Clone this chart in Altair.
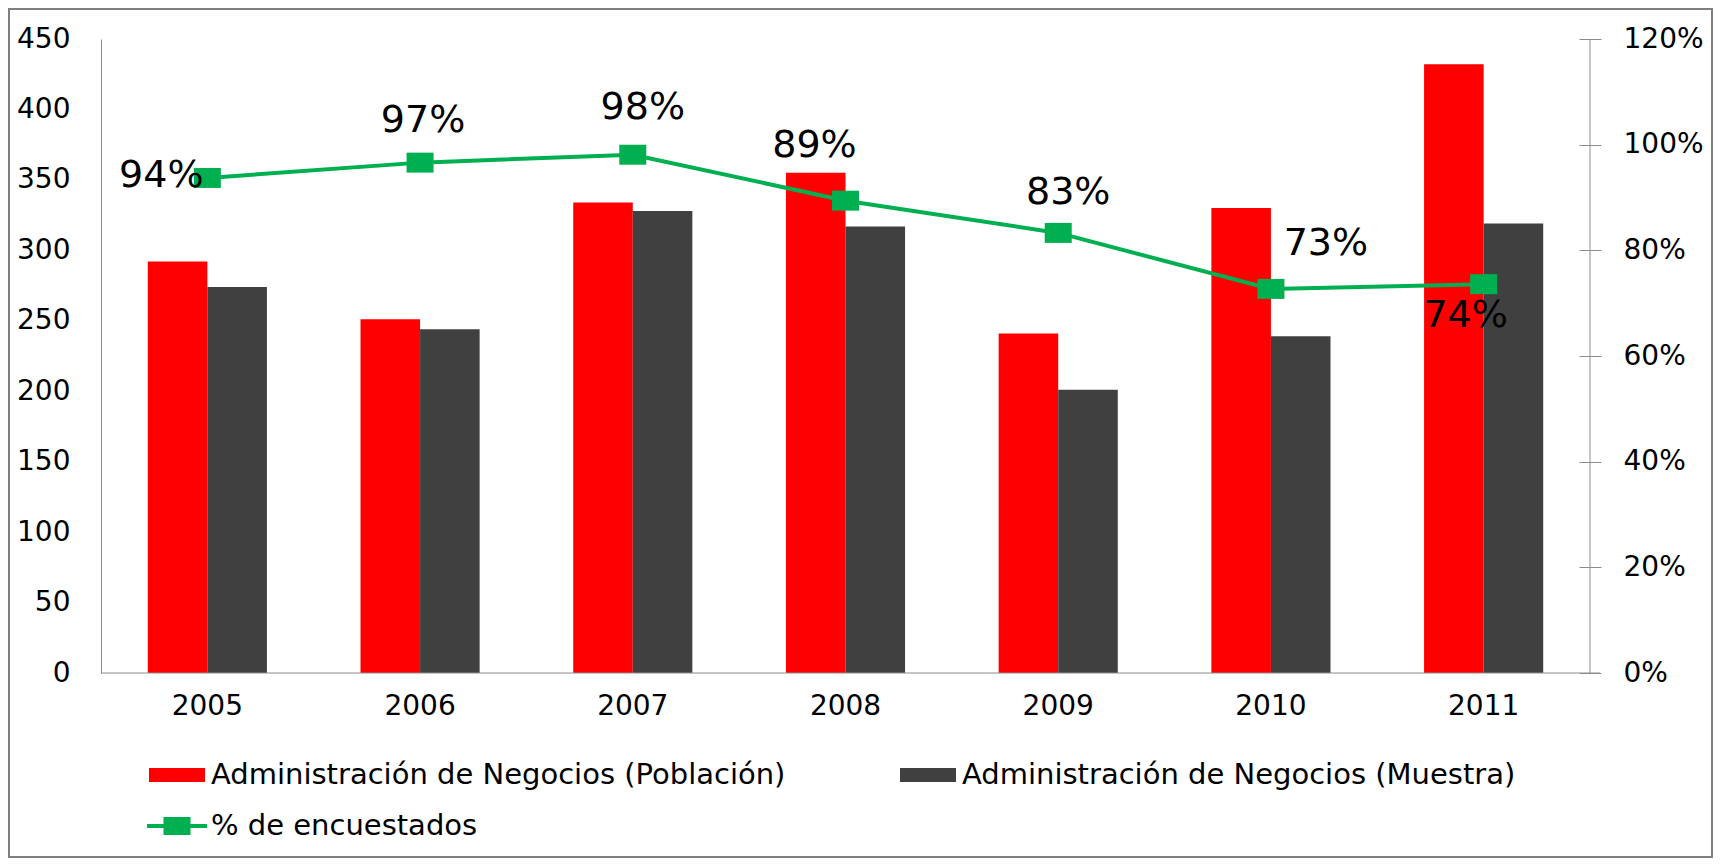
import altair as alt
import pandas as pd

# ---------------- data ----------------
years = ["2005", "2006", "2007", "2008", "2009", "2010", "2011"]
poblacion = [292, 251, 334, 355, 241, 330, 432]
muestra = [274, 244, 328, 317, 201, 239, 319]
encuestados = [0.937, 0.966, 0.981, 0.894, 0.833, 0.727, 0.736]
series_names = [
    "Administración de Negocios (Población)",
    "Administración de Negocios (Muestra)",
    "% de encuestados",
]
left_ticks = [0, 50, 100, 150, 200, 250, 300, 350, 400, 450]
right_ticks = [0, 0.2, 0.4, 0.6, 0.8, 1.0, 1.2]

bars_df = pd.DataFrame({
    "year": years * 2,
    "series": [series_names[0]] * len(years) + [series_names[1]] * len(years),
    "value": poblacion + muestra,
})
line_df = pd.DataFrame({"year": years, "pct": encuestados})
legend_df = pd.DataFrame({"series": series_names})
dummy = pd.DataFrame({"k": [0]})

# ---------------- style ----------------
FONT = "DejaVu Sans"
RED = "#FF0000"
DARK = "#404040"
GREEN = "#00B050"
GRAY = "#8C8C8C"
W, H = 1489, 634
PAD = {"left": 93, "top": 31, "right": 123, "bottom": 185}
TICK_FS = 28
LEGEND_FS = 29
LABEL_FS = 38

# label offsets (dx, dy) per year, as placed in the original
label_offsets = {
    "2005": (-46, -2),
    "2006": (3, -42),
    "2007": (10, -47),
    "2008": (-31, -55),
    "2009": (10, -40),
    "2010": (55, -45),
    "2011": (-18, 32),
}

x_enc = alt.X(
    "year:N",
    sort=years,
    title=None,
    scale=alt.Scale(paddingInner=0.44, paddingOuter=0.22),
    axis=alt.Axis(
        labelAngle=0, ticks=False, tickSize=0, labelPadding=19,
        domain=False, labelFontSize=TICK_FS,
        labelColor="black", labelFont=FONT, grid=False,
    ),
)

bars = alt.Chart(bars_df).mark_bar().encode(
    x=x_enc,
    xOffset=alt.XOffset(
        "series:N", sort=series_names[:2],
        scale=alt.Scale(domain=series_names[:2], paddingInner=0, paddingOuter=0),
    ),
    y=alt.Y(
        "value:Q",
        title=None,
        scale=alt.Scale(domain=[0, 450], nice=False),
        axis=alt.Axis(
            orient="left", values=left_ticks, ticks=False, tickSize=0,
            labelPadding=31, domainColor=GRAY, domainWidth=1, grid=False,
            labelFontSize=TICK_FS, labelFont=FONT, labelColor="black",
        ),
    ),
    color=alt.Color(
        "series:N",
        scale=alt.Scale(domain=series_names[:2], range=[RED, DARK]),
        legend=None,
    ),
)

pct_scale = alt.Scale(domain=[0, 1.2], nice=False)
pct_axis = alt.Axis(
    orient="right", values=right_ticks, format=".0%", offset=-11,
    tickSize=22, tickColor=GRAY, domain=False, grid=False,
    labelPadding=22, labelFontSize=TICK_FS, labelFont=FONT,
    labelColor="black",
)
y_pct = alt.Y("pct:Q", title=None, scale=pct_scale, axis=pct_axis)

line = alt.Chart(line_df).mark_line(color=GREEN, strokeWidth=4).encode(
    x=x_enc, y=y_pct,
)

MARKER = "M-1,-0.74H1V0.74H-1Z"
points = alt.Chart(line_df).mark_point(
    filled=True, shape=MARKER, size=729, color=GREEN, opacity=1
).encode(x=x_enc, y=y_pct)

label_layers = []
for yr, (dx, dy) in label_offsets.items():
    label_layers.append(
        alt.Chart(line_df)
        .transform_filter(alt.datum.year == yr)
        .mark_text(
            dx=dx, dy=dy, fontSize=LABEL_FS, font=FONT, color="black",
            align="center", baseline="middle",
        )
        .encode(
            x=x_enc,
            y=y_pct,
            text=alt.Text("pct:Q", format=".0%"),
        )
    )

right = alt.layer(line, points, *label_layers)

# legend (symbols drawn by Vega's legend from custom paths)
# legend fills column by column: order gives row1 = Población | Muestra, row2 = %
legend_order = [series_names[0], series_names[2], series_names[1]]
SWATCH = "M-1.4,-0.35H1.4V0.35H-1.4Z"
LINESYM = ("M-1.5,-0.1H-0.675V-0.45H0.675V-0.1H1.5V0.1H0.675V0.45"
           "H-0.675V0.1H-1.5Z")
leg = alt.Legend(
    title=None, orient="none", legendX=56, legendY=716, columns=2,
    symbolSize=1600, symbolStrokeWidth=0, symbolOpacity=1,
    labelOffset=14, columnPadding=114, rowPadding=16, padding=0,
    labelFont=FONT, labelFontSize=LEGEND_FS, labelColor="black",
    labelLimit=0,
)
legend_layer = alt.Chart(legend_df).mark_point(
    filled=True, opacity=0, size=1600
).encode(
    color=alt.Color(
        "series:N", sort=legend_order,
        scale=alt.Scale(domain=legend_order, range=[RED, GREEN, DARK]),
        legend=leg,
    ),
    shape=alt.Shape(
        "series:N", sort=legend_order,
        scale=alt.Scale(domain=legend_order, range=[SWATCH, LINESYM, SWATCH]),
        legend=leg,
    ),
)

# axis lines: right-hand vertical axis and the category baseline
right_domain = alt.Chart(dummy).mark_rule(color=GRAY, strokeWidth=1).encode(
    x=alt.value(W), y=alt.value(0), y2=alt.value(H)
)
baseline = alt.Chart(dummy).mark_rule(color=GRAY, strokeWidth=1).encode(
    x=alt.value(0), x2=alt.value(W + 10), y=alt.value(H)
)

# outer chart frame
frame = alt.Chart(dummy).mark_rect(
    fillOpacity=0, stroke="#7F7F7F", strokeWidth=2
).encode(
    x=alt.value(-PAD["left"] + 1),
    x2=alt.value(W + PAD["right"] - 1),
    y=alt.value(-PAD["top"] + 1),
    y2=alt.value(H + PAD["bottom"] - 1),
)

chart = (
    alt.layer(bars, right, legend_layer, right_domain, baseline, frame)
    .resolve_scale(y="independent", color="independent", shape="independent")
    .properties(
        width=W, height=H, padding=PAD,
        autosize=alt.AutoSizeParams(type="none"),
        background="white",
    )
    .configure(font=FONT)
    .configure_view(stroke="transparent", strokeWidth=0)
    .configure_axis(grid=False)
)

chart.save("out.html", embed_options={"renderer": "svg", "actions": False})
